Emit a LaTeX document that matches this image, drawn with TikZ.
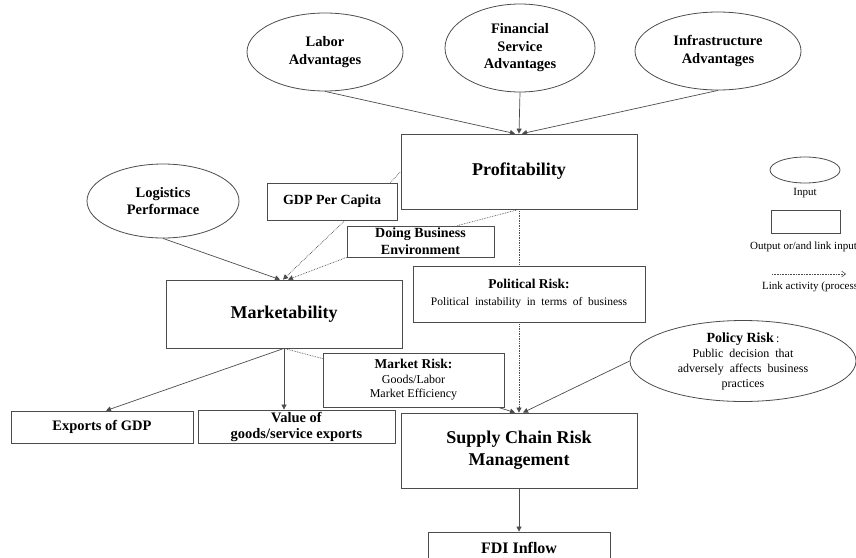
\documentclass[tikz,border=0pt]{standalone}
\usepackage{fontspec}
\setmainfont{Liberation Serif}
\usetikzlibrary{shapes.geometric,arrows.meta,positioning}
\definecolor{Line}{gray}{0.3}

\tikzset{
  oval/.style={ellipse, draw=Line, line width=0.8pt, inner sep=0pt, align=center, font=\bfseries\fontsize{14.5}{17.5}\selectfont},
  block/.style={rectangle, draw=Line, line width=0.8pt, fill=white, inner sep=0pt, align=center, font=\bfseries\fontsize{14}{17}\selectfont},
  big/.style={font=\bfseries\fontsize{18}{22}\selectfont},
  arr/.style={draw=Line, line width=0.7pt, -{Triangle[length=5pt,width=5pt]}},
  link/.style={draw=Line, line width=0.7pt, densely dotted},
  note/.style={inner sep=0pt, font=\fontsize{11}{13}\selectfont}
}

\begin{document}
\begin{tikzpicture}[x=1pt,y=-1pt]
\useasboundingbox (0,0) rectangle (856,557);
\clip (0,0) rectangle (856,557);

% Inputs
\node[oval, minimum width=156, minimum height=78] (lab) at (325,52) {Labor\\Advantages};
\node[oval, minimum width=150, minimum height=88] (fin) at (520,48) {Financial\\Service\\Advantages};
\node[oval, minimum width=166, minimum height=78] (inf) at (718,51) {Infrastructure\\Advantages};
\node[oval, minimum width=152, minimum height=74] (log) at (163,201) {Logistics\\Performace};
\node[oval, minimum width=226, minimum height=74, font=\fontsize{12}{15}\selectfont] (pcy) at (743,361)
  {{\bfseries\fontsize{14}{16}\selectfont Policy Risk\,}:\\Public \ decision \ that\\adversely \ affects \ business\\practices};

% Outputs
\node[block, big, minimum width=236, minimum height=75] (prof) at (519,171.5) {Profitability};
\node[block, minimum width=130, minimum height=37] (gdp) at (332,201.5) {GDP Per Capita};
\node[block, minimum width=147, minimum height=31] (dbe) at (420.5,241.5) {Doing Business\\Environment};
\node[block, big, minimum width=236, minimum height=68] (mkt) at (284,314) {Marketability};
\node[block, minimum width=232, minimum height=56, font=\fontsize{11.5}{17}\selectfont] (pol) at (529,294)
  {{\bfseries\fontsize{13.5}{15}\selectfont Political Risk:}\\Political \ instability \ in \ terms \ of \ business};
\node[block, minimum width=181, minimum height=54, font=\fontsize{12}{14.5}\selectfont] (mr) at (413.5,380)
  {{\bfseries\fontsize{13.5}{15}\selectfont Market Risk:}\\Goods/Labor\\Market Efficiency};
\node[block, big, minimum width=236, minimum height=75] (scrm) at (519,450.5) {Supply Chain Risk\\Management};
\node[block, minimum width=182, minimum height=32, font=\bfseries\fontsize{14.5}{17}\selectfont] (exp) at (102,427) {Exports of GDP};
\node[block, minimum width=197, minimum height=33, font=\bfseries\fontsize{14.5}{16}\selectfont] (val) at (296.5,426.5) {Value of\\goods/service exports};
\node[block, minimum width=182, minimum height=32, font=\bfseries\fontsize{16}{19}\selectfont] (fdi) at (519,548) {FDI Inflow};

% Links
\draw[arr] (lab.south) -- ([xshift=-4]prof.north);
\draw[arr] (fin.south) -- (prof.north);
\draw[arr] (inf.south) -- ([xshift=3]prof.north);
\draw[link] ([xshift=-7]gdp.north east) -- (prof.west);
\draw[link] (prof.south) -- ([xshift=37]dbe.north);
\draw[arr] (log.south) -- ([xshift=-4]mkt.north);
\draw[arr, densely dotted] ([xshift=13]gdp.south) -- ([xshift=-1]mkt.north);
\draw[arr, densely dotted] (dbe.south west) -- ([xshift=4]mkt.north);
\draw[link] (prof.south) -- (prof.south |- pol.north);
\draw[arr, densely dotted] (prof.south |- pol.south) -- (scrm.north);
\draw[arr] (mkt.south) -- ([xshift=4]exp.north);
\draw[arr] (mkt.south) -- (mkt.south |- val.north);
\draw[link] (mkt.south) -- ([yshift=-6]mr.north west);
\draw[arr] ([xshift=-6]mr.south east) -- ([xshift=-4]scrm.north);
\draw[arr] (pcy.west) -- ([xshift=4]scrm.north);
\draw[arr] (scrm.south) -- (fdi.north);

% Legend
\node[ellipse, draw=Line, line width=0.8pt, minimum width=70, minimum height=26] (kin) at (805,170) {};
\node[note, below=5pt of kin] (kin_l) {Input};
\node[rectangle, draw=Line, line width=0.8pt, minimum width=69, minimum height=23] (kout) at (805.5,221.5) {};
\node[note, anchor=north west] (kout_l) at (750,242) {Output or/and link input};
\coordinate (ka) at (772,274);
\coordinate (kb) at (846,274);
\draw[draw=Line, line width=0.6pt, densely dotted, -{Straight Barb[length=4pt,width=6pt]}] (ka) -- (kb);
\node[note, anchor=north west] (ka_l) at (762,282) {Link activity (process)};

\end{tikzpicture}
\end{document}
